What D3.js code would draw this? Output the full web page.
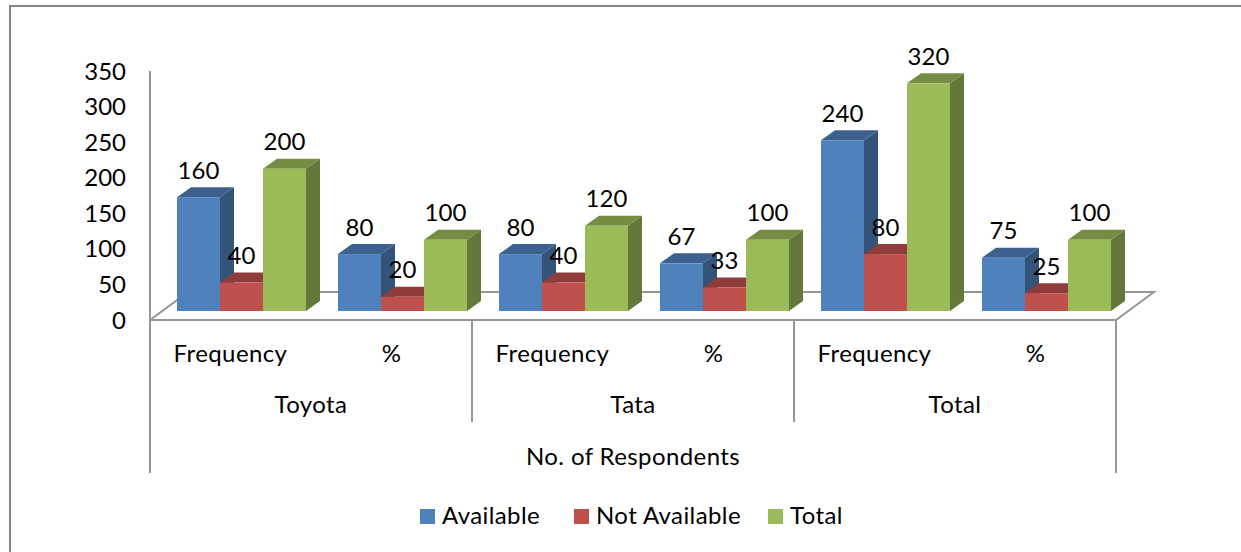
<!DOCTYPE html>
<html>
<head>
<meta charset="utf-8">
<script src="https://cdn.jsdelivr.net/npm/d3@7"></script>
<style>
  html, body { margin: 0; padding: 0; background: #fff; }
  text { font-family: Lato, sans-serif; font-size: 24px; fill: #000; }
  text.word { letter-spacing: 0.4px; }
</style>
</head>
<body>
<svg id="chart" width="1241" height="552"></svg>
<script>
// Respondent counts and shares, grouped by brand
const brands = ["Toyota", "Tata", "Total"];
const measures = ["Frequency", "%"];
const seriesNames = ["Available", "Not Available", "Total"];
const available = [160, 80, 80, 67, 240, 75];
const notAvailable = [40, 20, 40, 33, 80, 25];
const total = [200, 100, 120, 100, 320, 100];
const yTicks = [0, 50, 100, 150, 200, 250, 300, 350];
const axisTitle = "No. of Respondents";

const seriesValues = [available, notAvailable, total];
const faceColors = ["#4f81bd", "#c0504d", "#9bbb59"];
const topColors = ["#3c618e", "#903c3a", "#748d43"];
const sideColors = ["#335378", "#7a3331", "#63783a"];
const axisColor = "#969696";

const svg = d3.select("#chart");

const depthX = 14, depthY = 10, floorDrop = 9;
const y = d3.scaleLinear().domain([0, 350]).range([320, 71]);
const slots = d3.range(brands.length * measures.length);
const x = d3.scaleBand().domain(slots).range([150, 1116]);
const barX = d3.scaleBand().domain(d3.range(seriesNames.length)).range([27, 156]);

// Chart frame, open on the right and at the bottom
svg.append("path")
  .attr("d", "M10,552 V6 H1241")
  .attr("fill", "none").attr("stroke", "#868686").attr("stroke-width", 2);

const axes = svg.append("g").attr("fill", "none").attr("stroke", axisColor).attr("stroke-width", 2);
// Floor outline and value axis
axes.append("path").attr("d", `M${x.range()[0]},${y(350)} V${y(0)} L188,292 H1154 L1116,${y(0)} H150`);

// Category separators: outer ones run down past the brand row
[[0, 473], [2, 422], [4, 422], [6, 473]].forEach(([slot, bottom]) => {
  const px = 150 + slot * x.bandwidth();
  axes.append("line").attr("x1", px).attr("x2", px).attr("y1", y(0)).attr("y2", bottom);
});

// Value tick labels
svg.append("g").selectAll("text").data(yTicks).join("text")
  .attr("x", 126).attr("y", d => y(d)).attr("dy", "0.36em")
  .attr("text-anchor", "end").text(d => d);

// Draw each bar as a front face, a top and a side, left to right
const bars = svg.append("g");
slots.forEach(slot => {
  seriesValues.forEach((values, s) => {
    const v = values[slot];
    const x0 = x(slot) + barX(s), x1 = x0 + barX.bandwidth();
    const base = y(0) - floorDrop, top = y(v) - floorDrop;
    const g = bars.append("g");
    g.append("path").attr("fill", sideColors[s])
      .attr("d", `M${x1},${base} L${x1 + depthX},${base - depthY} V${top - depthY} L${x1},${top} Z`);
    g.append("path").attr("fill", topColors[s])
      .attr("d", `M${x0},${top} L${x0 + depthX},${top - depthY} H${x1 + depthX} L${x1},${top} Z`);
    g.append("rect").attr("fill", faceColors[s])
      .attr("x", x0).attr("y", top).attr("width", x1 - x0).attr("height", base - top);
  });
});

// Data labels sit above each bar
const labels = svg.append("g");
slots.forEach(slot => {
  seriesValues.forEach((values, s) => {
    const v = values[slot];
    labels.append("text")
      .attr("x", x(slot) + barX(s) + barX.bandwidth() / 2)
      .attr("y", y(v) - floorDrop - 27)
      .attr("dy", "0.36em").attr("text-anchor", "middle").text(v);
  });
});

// Category rows under the floor
slots.forEach(slot => {
  svg.append("text").attr("class", "word").attr("x", x(slot) + x.bandwidth() / 2).attr("y", 353)
    .attr("dy", "0.36em").attr("text-anchor", "middle")
    .text(measures[slot % measures.length]);
});
brands.forEach((b, i) => {
  svg.append("text").attr("class", "word").attr("x", 150 + (i + 0.5) * 2 * x.bandwidth()).attr("y", 404)
    .attr("dy", "0.36em").attr("text-anchor", "middle").text(b);
});
svg.append("text").attr("class", "word").attr("x", 633).attr("y", 456)
  .attr("dy", "0.36em").attr("text-anchor", "middle").text(axisTitle);

// Legend
const legendX = [420, 574, 768];
seriesNames.forEach((name, i) => {
  const g = svg.append("g").attr("transform", `translate(${legendX[i]},509)`);
  g.append("rect").attr("width", 15).attr("height", 15).attr("fill", faceColors[i]);
  g.append("text").attr("class", "word").attr("x", 22).attr("y", 6.5).attr("dy", "0.36em").text(name);
});
</script>
</body>
</html>
